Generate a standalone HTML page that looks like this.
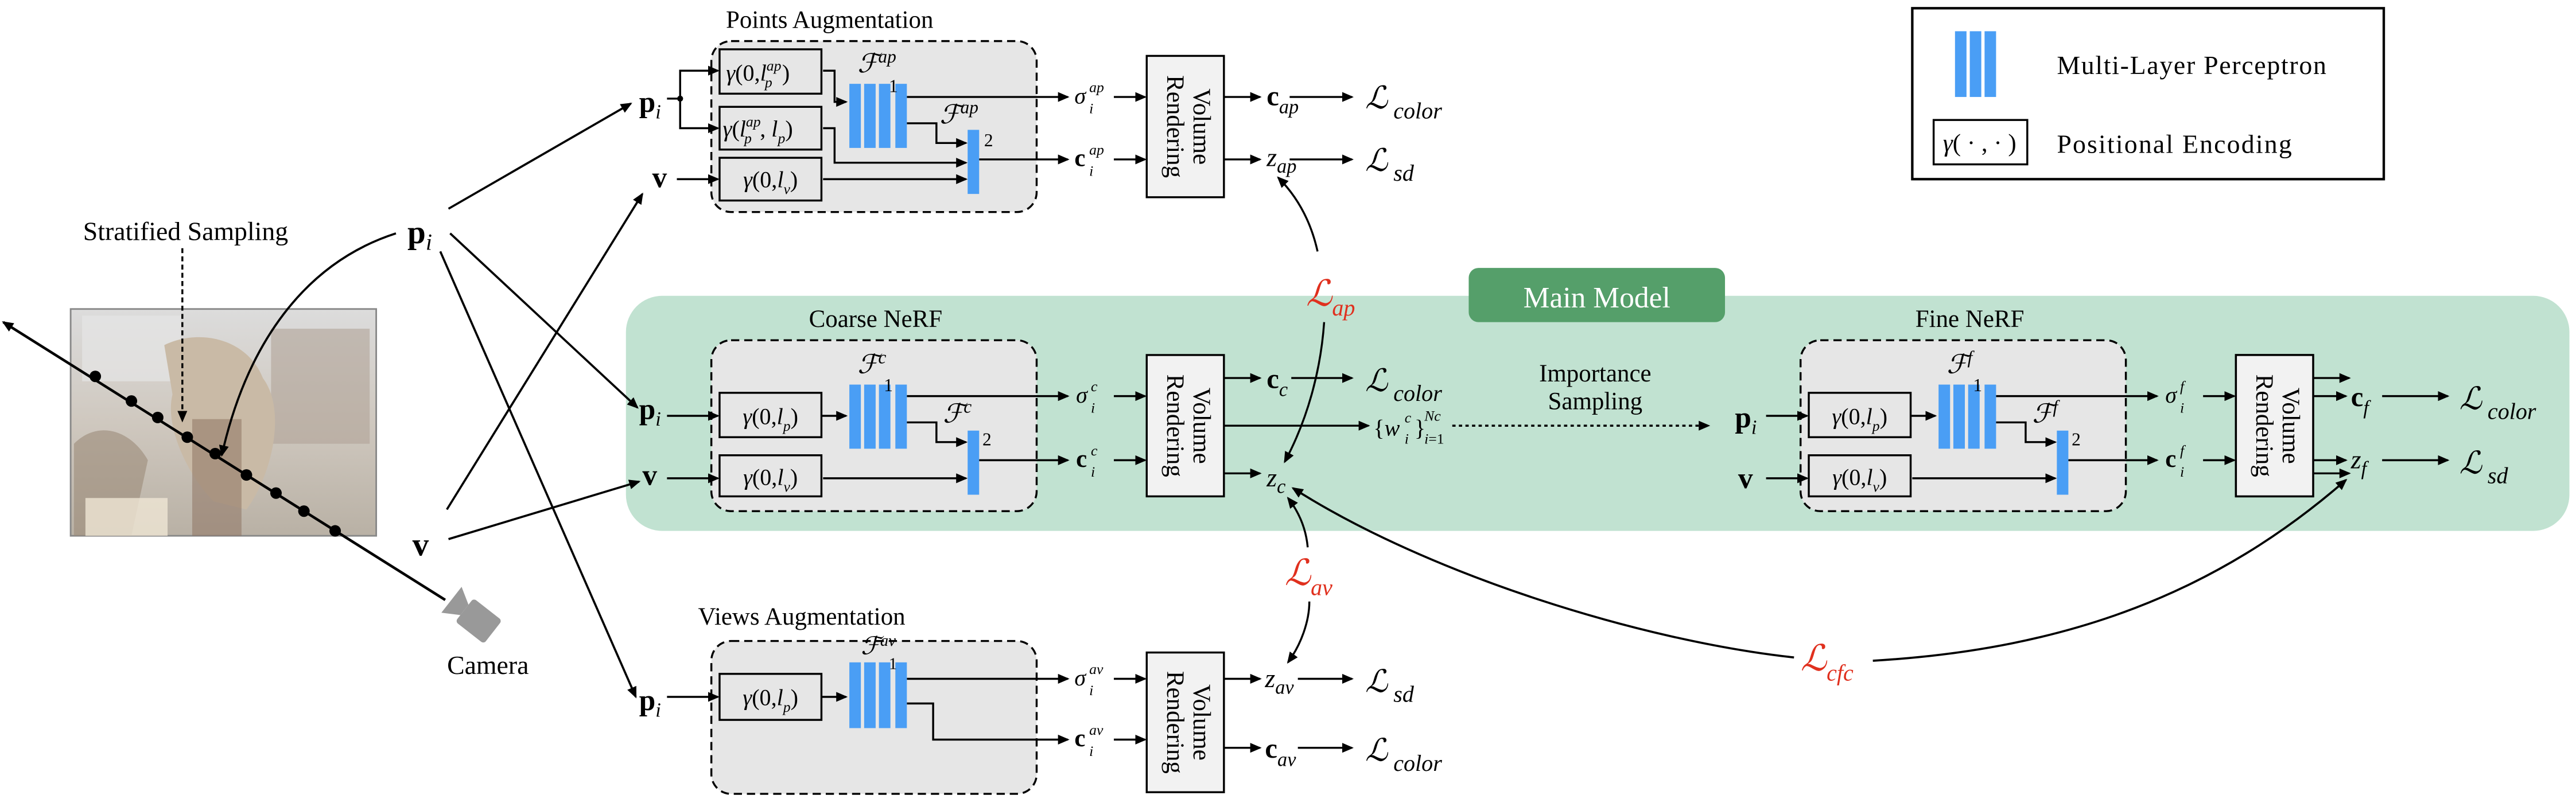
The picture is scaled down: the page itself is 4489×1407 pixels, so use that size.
<!DOCTYPE html>
<html><head><meta charset="utf-8">
<style>
html,body{margin:0;padding:0;background:#fff;}
svg{display:block;}
text{font-family:"Liberation Serif","DejaVu Serif",serif;fill:#000;}
.it{font-style:italic;}
.b{font-weight:bold;}
.red{fill:#e0301e;}
</style></head>
<body>
<svg width="4489" height="1407" viewBox="0 0 1568 491" preserveAspectRatio="none" xmlns="http://www.w3.org/2000/svg">
<defs>
<marker id="a" markerWidth="7" markerHeight="6" refX="6" refY="3" orient="auto" markerUnits="userSpaceOnUse"><path d="M0,0 L7,3 L0,6 z" fill="#000"/></marker>
<linearGradient id="ph" x1="0" y1="0" x2="0" y2="1"><stop offset="0" stop-color="#dcdcdc"/><stop offset="0.5" stop-color="#cfc8bf"/><stop offset="1" stop-color="#b9b1a5"/></linearGradient>
</defs>

<rect x="381" y="180" width="1183" height="143" rx="22" fill="#c1e2d1"/>
<rect x="894" y="163" width="156" height="33" rx="6" fill="#559f6a"/>
<text x="972" y="187" font-size="18" text-anchor="middle" style="fill:#fff">Main Model</text>

<!-- Legend -->
<rect x="1164" y="5" width="287" height="104" fill="#fff" stroke="#000" stroke-width="1.5"/>
<rect x="1190" y="19" width="7" height="40" fill="#4a9ef5"/>
<rect x="1199" y="19" width="7" height="40" fill="#4a9ef5"/>
<rect x="1208" y="19" width="7" height="40" fill="#4a9ef5"/>
<text x="1252" y="45" font-size="16" textLength="164">Multi-Layer Perceptron</text>
<rect x="1177" y="73" width="57" height="27" fill="#fff" stroke="#000" stroke-width="1.2"/>
<text x="1205" y="92" font-size="15" text-anchor="middle"><tspan class="it">γ</tspan>( · , · )</text>
<text x="1252" y="93" font-size="16" textLength="143">Positional Encoding</text>

<!-- Photo -->
<rect x="43" y="188" width="186" height="138" fill="url(#ph)" stroke="#888" stroke-width="1"/>
<rect x="50" y="192" width="60" height="40" fill="#e6e6e6" opacity="0.7"/>
<rect x="165" y="200" width="60" height="70" fill="#b0a498" opacity="0.6"/>
<path d="M100,210 C120,200 150,205 160,230 C175,250 165,290 150,310 L130,305 C115,290 100,260 105,240 Z" fill="#c9baa6"/>
<rect x="117" y="255" width="30" height="71" fill="#8a6e5c" opacity="0.5"/>
<path d="M45,270 C60,255 80,262 90,280 L80,326 L45,326 Z" fill="#9b8a78" opacity="0.6"/>
<rect x="52" y="303" width="50" height="23" fill="#efe6d4" opacity="0.8"/>

<line x1="271" y1="365" x2="2" y2="196" stroke="#000" stroke-width="1.6" marker-end="url(#a)"/>
<g fill="#000">
<circle cx="58" cy="229" r="3.5"/><circle cx="80" cy="244" r="3.5"/><circle cx="96" cy="254" r="3.5"/><circle cx="114" cy="266" r="3.5"/><circle cx="131" cy="276" r="3.5"/><circle cx="150" cy="289" r="3.5"/><circle cx="168" cy="300" r="3.5"/><circle cx="185" cy="311" r="3.5"/><circle cx="204" cy="323" r="3.5"/>
</g>
<g transform="translate(289,376) rotate(38)" fill="#999">
<rect x="-8" y="-9" width="22" height="18" rx="2"/>
<path d="M-8,-4 L-18,-10 L-18,10 L-8,4 Z"/>
</g>
<text x="297" y="410" font-size="16" text-anchor="middle">Camera</text>

<text x="113" y="146" font-size="16" text-anchor="middle">Stratified Sampling</text>
<line x1="111" y1="151" x2="111" y2="256" stroke="#000" stroke-width="1.2" stroke-dasharray="3,2" marker-end="url(#a)"/>

<text x="248" y="148" font-size="20"><tspan class="b">p</tspan><tspan class="it" font-size="14" dy="4">i</tspan></text>
<text x="251" y="338" font-size="20" class="b">v</text>
<path d="M241,142 C185,160 150,210 135,277" fill="none" stroke="#000" stroke-width="1.3" marker-end="url(#a)"/>
<g stroke="#000" stroke-width="1.3" fill="none" marker-end="url(#a)">
<line x1="273" y1="127" x2="384" y2="63"/>
<line x1="274" y1="142" x2="388" y2="248"/>
<line x1="268" y1="153" x2="387" y2="424"/>
<line x1="272" y1="310" x2="391" y2="118"/>
<line x1="273" y1="328" x2="389" y2="293"/>
</g>

<!-- ================= Points Augmentation ================= -->
<text x="505" y="17" font-size="15" text-anchor="middle">Points Augmentation</text>
<rect x="433" y="25" width="198" height="104" rx="12" fill="#e6e6e6" stroke="#000" stroke-width="1.2" stroke-dasharray="5,3"/>
<text x="389" y="68" font-size="18"><tspan class="b">p</tspan><tspan class="it" font-size="12" dy="4">i</tspan></text>
<circle cx="414" cy="60" r="1.8"/>
<g stroke="#000" stroke-width="1.2" fill="none">
<polyline points="406,60 414,60"/>
<polyline points="414,78 414,43 437,43" marker-end="url(#a)"/>
<polyline points="414,60 414,78 437,78" marker-end="url(#a)"/>
<line x1="412" y1="109" x2="437" y2="109" marker-end="url(#a)"/>
<polyline points="501,43 508,43 508,62 515,62" marker-end="url(#a)"/>
<polyline points="501,78 508,78 508,99 588,99" marker-end="url(#a)"/>
<line x1="501" y1="109" x2="588" y2="109" marker-end="url(#a)"/>
<line x1="552" y1="59" x2="650" y2="59" marker-end="url(#a)"/>
<polyline points="552,75 570,75 570,87 588,87" marker-end="url(#a)"/>
<line x1="596" y1="97" x2="650" y2="97" marker-end="url(#a)"/>
<line x1="678" y1="59" x2="697" y2="59" marker-end="url(#a)"/>
<line x1="678" y1="97" x2="697" y2="97" marker-end="url(#a)"/>
<line x1="745" y1="59" x2="767" y2="59" marker-end="url(#a)"/>
<line x1="745" y1="97" x2="767" y2="97" marker-end="url(#a)"/>
<line x1="785" y1="59" x2="823" y2="59" marker-end="url(#a)"/>
<line x1="785" y1="97" x2="823" y2="97" marker-end="url(#a)"/>
</g>
<text x="397" y="114" font-size="18" class="b">v</text>
<rect x="438" y="30" width="62" height="27" fill="#e6e6e6" stroke="#000" stroke-width="1.2"/>
<text x="442" y="49" font-size="14"><tspan class="it">γ</tspan>(0,<tspan class="it">l</tspan><tspan class="it" font-size="9" dy="-6">ap</tspan><tspan class="it" font-size="9" dx="-10" dy="10">p</tspan><tspan dx="6" dy="-4">)</tspan></text>
<rect x="438" y="65" width="62" height="26" fill="#e6e6e6" stroke="#000" stroke-width="1.2"/>
<text x="440" y="83" font-size="14"><tspan class="it">γ</tspan>(<tspan class="it">l</tspan><tspan class="it" font-size="9" dy="-6">ap</tspan><tspan class="it" font-size="9" dx="-10" dy="10">p</tspan><tspan dx="5" dy="-4">, </tspan><tspan class="it">l</tspan><tspan class="it" font-size="9" dy="4">p</tspan><tspan dy="-4">)</tspan></text>
<rect x="438" y="96" width="62" height="26" fill="#e6e6e6" stroke="#000" stroke-width="1.2"/>
<text x="469" y="114" font-size="14" text-anchor="middle"><tspan class="it">γ</tspan>(0,<tspan class="it">l</tspan><tspan class="it" font-size="9" dy="4">v</tspan><tspan dy="-4">)</tspan></text>
<g fill="#4a9ef5"><rect x="517" y="51" width="7" height="39"/><rect x="526" y="51" width="7" height="39"/><rect x="535" y="51" width="7" height="39"/><rect x="545" y="51" width="7" height="39"/>
<rect x="589" y="79" width="7" height="39"/></g>
<text x="522" y="44" font-size="16"><tspan class="it">ℱ</tspan><tspan class="it" font-size="11" dy="-6">ap</tspan></text><text x="541" y="56" font-size="11">1</text>
<text x="572" y="75" font-size="16"><tspan class="it">ℱ</tspan><tspan class="it" font-size="11" dy="-6">ap</tspan></text><text x="599" y="89" font-size="11">2</text>
<text x="654" y="63" font-size="14" class="it">σ</text><text x="663" y="56" font-size="9" class="it">ap</text><text x="663" y="69" font-size="9" class="it">i</text>
<text x="654" y="101" font-size="15" class="b">c</text><text x="663" y="94" font-size="9" class="it">ap</text><text x="663" y="107" font-size="9" class="it">i</text>
<rect x="698" y="34" width="47" height="86" fill="#f2f2f2" stroke="#000" stroke-width="1.2"/>
<text transform="translate(721.5,77) rotate(90)" font-size="15" text-anchor="middle"><tspan x="0" dy="-5">Volume</tspan><tspan x="0" dy="16">Rendering</tspan></text>
<text x="771" y="64" font-size="17"><tspan class="b">c</tspan><tspan class="it" font-size="12" dy="5">ap</tspan></text>
<text x="771" y="101" font-size="16"><tspan class="it">z</tspan><tspan class="it" font-size="12" dy="4">ap</tspan></text>
<text x="831" y="66" font-size="19"><tspan class="it">ℒ</tspan><tspan class="it" font-size="14" dy="6"> color</tspan></text>
<text x="831" y="104" font-size="19"><tspan class="it">ℒ</tspan><tspan class="it" font-size="14" dy="6"> sd</tspan></text>

<text x="795" y="186" font-size="22" class="red"><tspan class="it">ℒ</tspan><tspan class="it" font-size="14" dy="6">ap</tspan></text>
<path d="M802,153 C798,135 790,120 778,108" fill="none" stroke="#000" stroke-width="1.2" marker-end="url(#a)"/>
<path d="M806,196 C804,225 796,255 782,281" fill="none" stroke="#000" stroke-width="1.2" marker-end="url(#a)"/>

<!-- ================= Coarse NeRF ================= -->
<text x="533" y="199" font-size="15" text-anchor="middle">Coarse NeRF</text>
<g id="blk">
<rect x="433" y="207" width="198" height="104" rx="12" fill="#e6e6e6" stroke="#000" stroke-width="1.2" stroke-dasharray="5,3"/>
<g stroke="#000" stroke-width="1.2" fill="none">
<line x1="500" y1="253" x2="515" y2="253" marker-end="url(#a)"/>
<line x1="552" y1="241" x2="650" y2="241" marker-end="url(#a)"/>
<polyline points="552,257 570,257 570,269 588,269" marker-end="url(#a)"/>
<line x1="501" y1="291" x2="588" y2="291" marker-end="url(#a)"/>
<line x1="596" y1="280" x2="650" y2="280" marker-end="url(#a)"/>
<line x1="678" y1="241" x2="697" y2="241" marker-end="url(#a)"/>
<line x1="678" y1="280" x2="697" y2="280" marker-end="url(#a)"/>
<line x1="745" y1="230" x2="767" y2="230" marker-end="url(#a)"/>
<line x1="745" y1="288" x2="767" y2="288" marker-end="url(#a)"/>
</g>
<rect x="438" y="239" width="62" height="27" fill="#e6e6e6" stroke="#000" stroke-width="1.2"/>
<text x="469" y="258" font-size="14" text-anchor="middle"><tspan class="it">γ</tspan>(0,<tspan class="it">l</tspan><tspan class="it" font-size="9" dy="4">p</tspan><tspan dy="-4">)</tspan></text>
<rect x="438" y="277" width="62" height="25" fill="#e6e6e6" stroke="#000" stroke-width="1.2"/>
<text x="469" y="295" font-size="14" text-anchor="middle"><tspan class="it">γ</tspan>(0,<tspan class="it">l</tspan><tspan class="it" font-size="9" dy="4">v</tspan><tspan dy="-4">)</tspan></text>
<g fill="#4a9ef5"><rect x="517" y="234" width="7" height="39"/><rect x="526" y="234" width="7" height="39"/><rect x="535" y="234" width="7" height="39"/><rect x="545" y="234" width="7" height="39"/>
<rect x="589" y="262" width="7" height="39"/></g>
<rect x="698" y="216" width="47" height="86" fill="#f2f2f2" stroke="#000" stroke-width="1.2"/>
<text transform="translate(721.5,259) rotate(90)" font-size="15" text-anchor="middle"><tspan x="0" dy="-5">Volume</tspan><tspan x="0" dy="16">Rendering</tspan></text>
</g>
<text x="389" y="255" font-size="18"><tspan class="b">p</tspan><tspan class="it" font-size="12" dy="4">i</tspan></text>
<text x="391" y="295" font-size="18" class="b">v</text>
<g stroke="#000" stroke-width="1.2"><line x1="406" y1="253" x2="437" y2="253" marker-end="url(#a)"/><line x1="406" y1="291" x2="437" y2="291" marker-end="url(#a)"/></g>
<text x="522" y="227" font-size="16"><tspan class="it">ℱ</tspan><tspan class="it" font-size="11" dy="-6">c</tspan></text><text x="538" y="238" font-size="11">1</text>
<text x="574" y="257" font-size="16"><tspan class="it">ℱ</tspan><tspan class="it" font-size="11" dy="-6">c</tspan></text><text x="598" y="271" font-size="11">2</text>
<text x="655" y="245" font-size="14" class="it">σ</text><text x="664" y="238" font-size="9" class="it">c</text><text x="664" y="251" font-size="9" class="it">i</text>
<text x="655" y="284" font-size="15" class="b">c</text><text x="664" y="277" font-size="9" class="it">c</text><text x="664" y="290" font-size="9" class="it">i</text>
<text x="771" y="236" font-size="17"><tspan class="b">c</tspan><tspan class="it" font-size="12" dy="5">c</tspan></text>
<line x1="786" y1="230" x2="823" y2="230" stroke="#000" stroke-width="1.2" marker-end="url(#a)"/>
<text x="831" y="238" font-size="19"><tspan class="it">ℒ</tspan><tspan class="it" font-size="14" dy="6"> color</tspan></text>
<line x1="745" y1="259" x2="833" y2="259" stroke="#000" stroke-width="1.2" marker-end="url(#a)"/>
<text x="836" y="265" font-size="14">{<tspan class="it">w</tspan></text><text x="855" y="257" font-size="9" class="it">c</text><text x="855" y="270" font-size="9" class="it">i</text><text x="861" y="265" font-size="14">}</text><text x="867" y="256" font-size="9" class="it">Nc</text><text x="867" y="270" font-size="9"><tspan class="it">i</tspan>=1</text>
<text x="771" y="296" font-size="16"><tspan class="it">z</tspan><tspan class="it" font-size="12" dy="4">c</tspan></text>

<text x="971" y="232" font-size="15" text-anchor="middle">Importance</text>
<text x="971" y="249" font-size="15" text-anchor="middle">Sampling</text>
<line x1="884" y1="259" x2="1040" y2="259" stroke="#000" stroke-width="1.3" stroke-dasharray="2,2" marker-end="url(#a)"/>

<!-- ================= Fine NeRF ================= -->
<text x="1199" y="199" font-size="15" text-anchor="middle">Fine NeRF</text>
<use href="#blk" transform="translate(663,0)"/>
<text x="1056" y="260" font-size="18"><tspan class="b">p</tspan><tspan class="it" font-size="12" dy="4">i</tspan></text>
<text x="1058" y="297" font-size="18" class="b">v</text>
<g stroke="#000" stroke-width="1.2"><line x1="1075" y1="253" x2="1100" y2="253" marker-end="url(#a)"/><line x1="1075" y1="291" x2="1100" y2="291" marker-end="url(#a)"/></g>
<text x="1185" y="227" font-size="16"><tspan class="it">ℱ</tspan><tspan class="it" font-size="11" dy="-6">f</tspan></text><text x="1201" y="238" font-size="11">1</text>
<text x="1237" y="257" font-size="16"><tspan class="it">ℱ</tspan><tspan class="it" font-size="11" dy="-6">f</tspan></text><text x="1261" y="271" font-size="11">2</text>
<text x="1318" y="245" font-size="14" class="it">σ</text><text x="1327" y="238" font-size="9" class="it">f</text><text x="1327" y="251" font-size="9" class="it">i</text>
<text x="1318" y="284" font-size="15" class="b">c</text><text x="1327" y="277" font-size="9" class="it">f</text><text x="1327" y="290" font-size="9" class="it">i</text>
<line x1="1408" y1="241" x2="1428" y2="241" stroke="#000" stroke-width="1.2" marker-end="url(#a)"/>
<line x1="1408" y1="280" x2="1428" y2="280" stroke="#000" stroke-width="1.2" marker-end="url(#a)"/>
<rect x="1361" y="216" width="47" height="86" fill="#f2f2f2" stroke="#000" stroke-width="1.2"/>
<text transform="translate(1384.5,259) rotate(90)" font-size="15" text-anchor="middle"><tspan x="0" dy="-5">Volume</tspan><tspan x="0" dy="16">Rendering</tspan></text>
<text x="1431" y="247" font-size="17"><tspan class="b">c</tspan><tspan class="it" font-size="12" dy="5">f</tspan></text>
<text x="1431" y="285" font-size="16"><tspan class="it">z</tspan><tspan class="it" font-size="12" dy="4">f</tspan></text>
<line x1="1450" y1="241" x2="1490" y2="241" stroke="#000" stroke-width="1.2" marker-end="url(#a)"/>
<line x1="1450" y1="280" x2="1490" y2="280" stroke="#000" stroke-width="1.2" marker-end="url(#a)"/>
<text x="1497" y="249" font-size="19"><tspan class="it">ℒ</tspan><tspan class="it" font-size="14" dy="6"> color</tspan></text>
<text x="1497" y="288" font-size="19"><tspan class="it">ℒ</tspan><tspan class="it" font-size="14" dy="6"> sd</tspan></text>

<text x="782" y="356" font-size="22" class="red"><tspan class="it">ℒ</tspan><tspan class="it" font-size="14" dy="6">av</tspan></text>
<path d="M796,333 C795,322 791,312 784,303" fill="none" stroke="#000" stroke-width="1.2" marker-end="url(#a)"/>
<path d="M797,366 C797,378 792,392 784,403" fill="none" stroke="#000" stroke-width="1.2" marker-end="url(#a)"/>

<text x="1096" y="408" font-size="22" class="red"><tspan class="it">ℒ</tspan><tspan class="it" font-size="14" dy="6">cfc</tspan></text>
<path d="M1092,400 C1000,390 870,350 787,297" fill="none" stroke="#000" stroke-width="1.3" marker-end="url(#a)"/>
<path d="M1140,402 C1260,395 1350,360 1428,292" fill="none" stroke="#000" stroke-width="1.3" marker-end="url(#a)"/>

<!-- ================= Views Augmentation ================= -->
<text x="488" y="380" font-size="15" text-anchor="middle">Views Augmentation</text>
<rect x="433" y="390" width="198" height="93" rx="12" fill="#e6e6e6" stroke="#000" stroke-width="1.2" stroke-dasharray="5,3"/>
<text x="389" y="432" font-size="18"><tspan class="b">p</tspan><tspan class="it" font-size="12" dy="4">i</tspan></text>
<g stroke="#000" stroke-width="1.2" fill="none">
<line x1="406" y1="424" x2="437" y2="424" marker-end="url(#a)"/>
<line x1="500" y1="424" x2="515" y2="424" marker-end="url(#a)"/>
<line x1="552" y1="413" x2="650" y2="413" marker-end="url(#a)"/>
<polyline points="552,428 568,428 568,450 650,450" marker-end="url(#a)"/>
<line x1="678" y1="413" x2="697" y2="413" marker-end="url(#a)"/>
<line x1="678" y1="450" x2="697" y2="450" marker-end="url(#a)"/>
<line x1="745" y1="413" x2="767" y2="413" marker-end="url(#a)"/>
<line x1="745" y1="455" x2="767" y2="455" marker-end="url(#a)"/>
<line x1="790" y1="413" x2="823" y2="413" marker-end="url(#a)"/>
<line x1="790" y1="455" x2="823" y2="455" marker-end="url(#a)"/>
</g>
<rect x="438" y="410" width="62" height="28" fill="#e6e6e6" stroke="#000" stroke-width="1.2"/>
<text x="469" y="429" font-size="14" text-anchor="middle"><tspan class="it">γ</tspan>(0,<tspan class="it">l</tspan><tspan class="it" font-size="9" dy="4">p</tspan><tspan dy="-4">)</tspan></text>
<g fill="#4a9ef5"><rect x="517" y="403" width="7" height="40"/><rect x="526" y="403" width="7" height="40"/><rect x="535" y="403" width="7" height="40"/><rect x="545" y="403" width="7" height="40"/></g>
<text x="524" y="398" font-size="15"><tspan class="it">ℱ</tspan><tspan class="it" font-size="10" dy="-5">av</tspan></text><text x="541" y="407" font-size="10">1</text>
<text x="654" y="417" font-size="14" class="it">σ</text><text x="663" y="410" font-size="9" class="it">av</text><text x="663" y="423" font-size="9" class="it">i</text>
<text x="654" y="454" font-size="15" class="b">c</text><text x="663" y="447" font-size="9" class="it">av</text><text x="663" y="460" font-size="9" class="it">i</text>
<rect x="698" y="397" width="47" height="85" fill="#f2f2f2" stroke="#000" stroke-width="1.2"/>
<text transform="translate(721.5,439.5) rotate(90)" font-size="15" text-anchor="middle"><tspan x="0" dy="-5">Volume</tspan><tspan x="0" dy="16">Rendering</tspan></text>
<text x="770" y="418" font-size="16"><tspan class="it">z</tspan><tspan class="it" font-size="12" dy="4">av</tspan></text>
<text x="770" y="461" font-size="17"><tspan class="b">c</tspan><tspan class="it" font-size="12" dy="5">av</tspan></text>
<text x="831" y="421" font-size="19"><tspan class="it">ℒ</tspan><tspan class="it" font-size="14" dy="6"> sd</tspan></text>
<text x="831" y="463" font-size="19"><tspan class="it">ℒ</tspan><tspan class="it" font-size="14" dy="6"> color</tspan></text>
</svg>
</body></html>
